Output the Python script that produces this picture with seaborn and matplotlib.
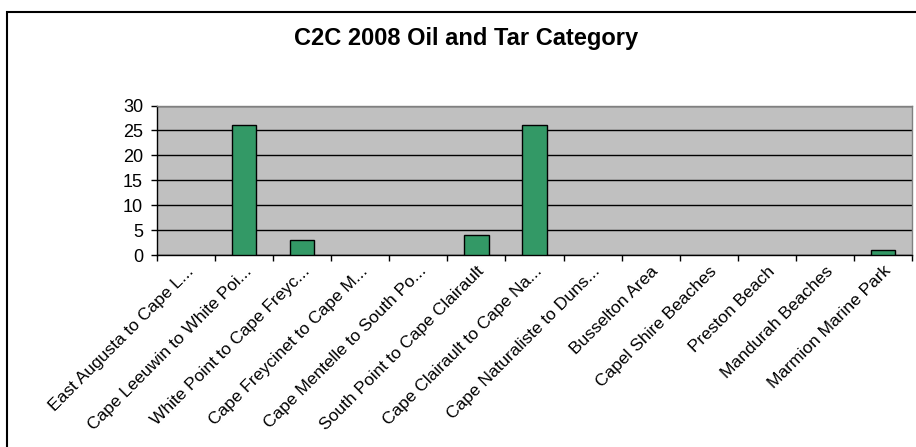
import numpy as np
import pandas as pd
import matplotlib.pyplot as plt
import seaborn as sns
from matplotlib.patches import Rectangle

# Oil and tar counts per beach section
sections = ['East Augusta to Cape L...', 'Cape Leeuwin to White Poi...',
            'White Point to Cape Freyc...', 'Cape Freycinet to Cape M...',
            'Cape Mentelle to South Po...', 'South Point to Cape Clairault',
            'Cape Clairault to Cape Na...', 'Cape Naturaliste to Duns...',
            'Busselton Area', 'Capel Shire Beaches', 'Preston Beach',
            'Mandurah Beaches', 'Marmion Marine Park']
counts = [0, 26, 3, 0, 0, 4, 26, 0, 0, 0, 0, 0, 1]
y_ticks = [0, 5, 10, 15, 20, 25, 30]

df = pd.DataFrame({'Section': sections, 'Count': counts})

sns.set_style("white")
plt.rcParams['font.family'] = ['Liberation Sans', 'DejaVu Sans']
plt.rcParams['text.color'] = 'black'
plt.rcParams['xtick.color'] = 'black'
plt.rcParams['ytick.color'] = 'black'

fig = plt.figure(figsize=(9.16, 4.47), dpi=100)
ax = fig.add_axes([157 / 916, 1 - 255 / 447, (912 - 157) / 916, (255 - 105.5) / 447])

sns.barplot(data=df, x='Section', y='Count', color='#339966', saturation=1,
            width=0.42, edgecolor='black', linewidth=1, ax=ax, zorder=3)

# Excel leaves empty categories blank
for p in ax.patches:
    if p.get_height() == 0:
        p.set_visible(False)

ax.set_facecolor('#C0C0C0')
ax.set_xlim(-0.5, len(sections) - 0.5)
ax.set_ylim(0, 30)
ax.set_yticks(y_ticks)
ax.yaxis.grid(True, color='black', linewidth=1, zorder=1)
ax.set_axisbelow(True)
ax.tick_params(axis='y', direction='out', length=4, width=1, color='black',
               labelsize=13, pad=6, left=True, labelcolor='black')

ax.set_xticks(range(len(sections)))
ax.set_xticklabels(sections, rotation=45, ha='right', rotation_mode='anchor',
                   fontsize=12.5, color='black')
ax.tick_params(axis='x', length=0, pad=6)
ax.set_xticks(np.arange(-0.5, len(sections)), minor=True)
ax.tick_params(axis='x', which='minor', direction='out', length=4, width=1,
               color='black', bottom=True)

for s in ['left', 'bottom']:
    ax.spines[s].set_color('black')
    ax.spines[s].set_linewidth(1)
for s in ['top', 'right']:
    ax.spines[s].set_color('#808080')
    ax.spines[s].set_linewidth(1)

ax.set_xlabel('')
ax.set_ylabel('')

fig.text(466 / 916, 1 - 38 / 447, 'C2C 2008 Oil and Tar Category',
         ha='center', va='center', fontsize=17, fontweight='bold', color='black')

# chart frame
fig.patches.append(Rectangle((7 / 916, -0.05), 1.1, 1 - 12 / 447 + 0.05,
                             transform=fig.transFigure, fill=False,
                             edgecolor='black', linewidth=1.5))

plt.savefig('out.png', dpi=100)
